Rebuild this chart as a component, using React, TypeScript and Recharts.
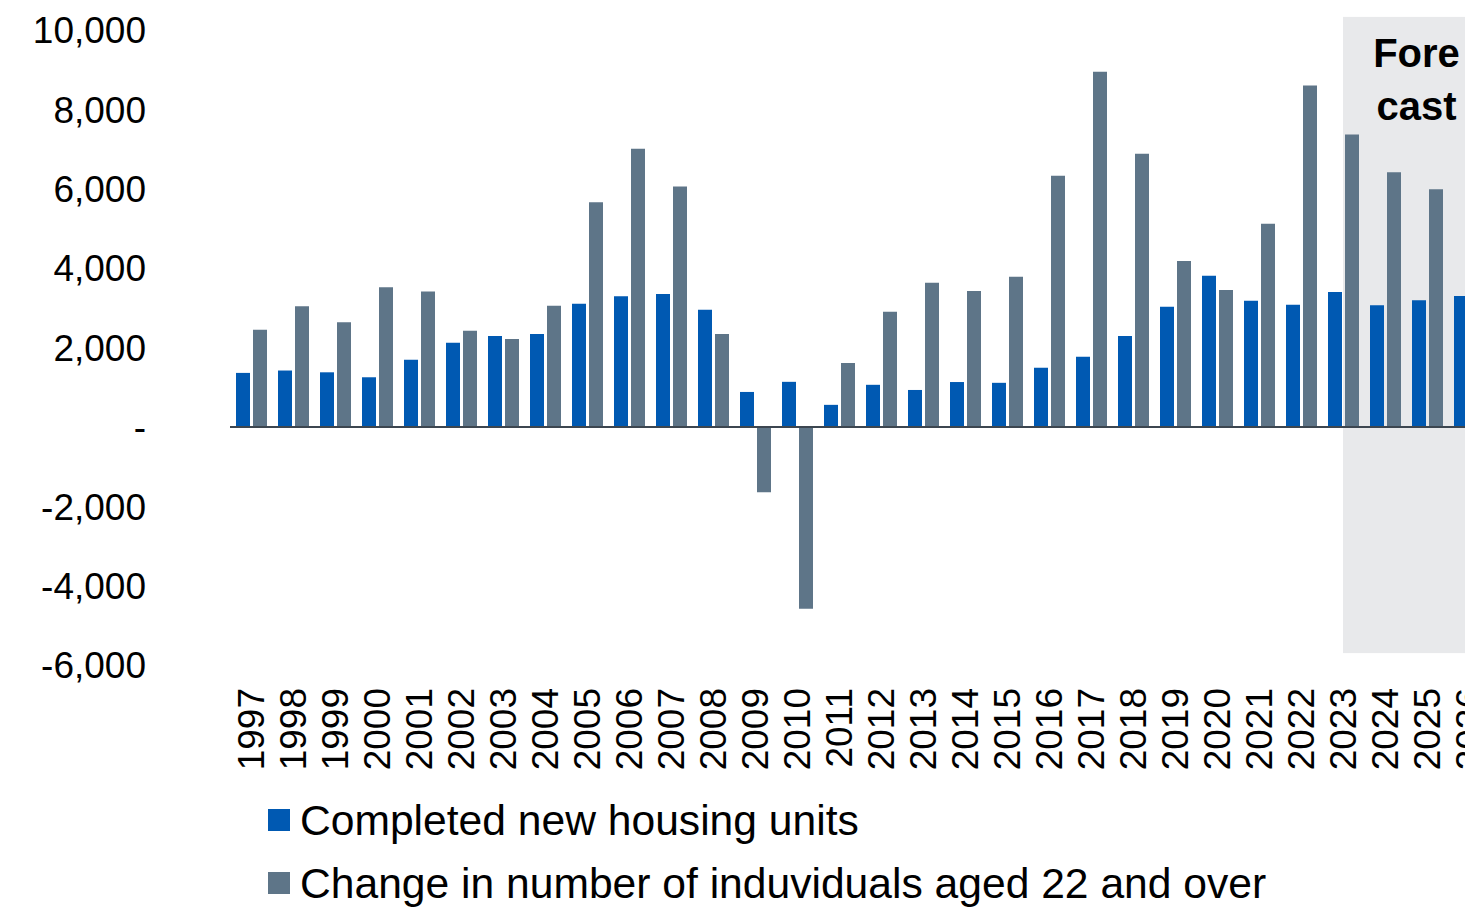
import { BarChart, Bar, XAxis, YAxis, ReferenceLine, ReferenceArea } from 'recharts'

const years = [
    '1997', '1998', '1999', '2000', '2001', '2002', '2003', '2004', '2005', '2006',
    '2007', '2008', '2009', '2010', '2011', '2012', '2013', '2014', '2015', '2016',
    '2017', '2018', '2019', '2020', '2021', '2022', '2023', '2024', '2025', '2026',
]

const completedUnits = [
    1360, 1420, 1375, 1250, 1690, 2120, 2290, 2340, 3105, 3290,
    3350, 2950, 880, 1135, 555, 1060, 930, 1130, 1110, 1490,
    1765, 2290, 3025, 3810, 3180, 3080, 3400, 3065, 3190, 3300,
]

// 2026 value is outside the visible picture
const adultChange = [
    2450, 3040, 2635, 3520, 3410, 2420, 2215, 3050, 5660, 7005,
    6055, 2340, -1650, -4585, 1610, 2900, 3630, 3425, 3780, 6325,
    8945, 6880, 4180, 3450, 5115, 8600, 7365, 6415, 5985, null,
]

const seriesNames = ['Completed new housing units', 'Change in number of induviduals aged 22 and over']
const seriesColors = ['#0059B2', '#5E7588']
const yTicks = [-6000, -4000, -2000, 0, 2000, 4000, 6000, 8000, 10000]
const forecastStart = '2023'
const forecastEnd = '2026'
const forecastLabel = ['Fore', 'cast']

const font = '"Liberation Sans", Arial, sans-serif'

const chartData = years.map((year, i) => ({
    year,
    completed: completedUnits[i],
    change: adultChange[i],
}))

const YTick = ({ x, y, payload }: any) => (
    <text x={x} y={y} dy="0.36em" textAnchor="end" fontSize={37} fontFamily={font} fill="#000">
        {payload.value === 0 ? '-' : payload.value.toLocaleString('en-US')}
    </text>
)

const XTick = ({ x, y, payload }: any) => (
    <text
        x={x}
        y={y}
        dy="0.36em"
        transform={`rotate(-90, ${x}, ${y})`}
        textAnchor="end"
        fontSize={37}
        fontFamily={font}
        fill="#000"
    >
        {payload.value}
    </text>
)

// shaded box starts in the middle of the first forecast year
const ForecastBox = ({ x, y, width, height }: any) => {
    const shift = width / 8
    const cx = x + shift + (width - shift) / 2
    return (
        <g>
            <rect x={x + shift} y={y} width={width - shift} height={height} fill="#E8E9EB" />
            <text x={cx} y={y + 50} textAnchor="middle" fontSize={40} fontWeight="bold" fontFamily={font} fill="#000">
                {forecastLabel[0]}
            </text>
            <text x={cx} y={y + 103} textAnchor="middle" fontSize={40} fontWeight="bold" fontFamily={font} fill="#000">
                {forecastLabel[1]}
            </text>
        </g>
    )
}

export default function App() {
    return (
        <div style={{ position: 'absolute', left: 0, top: 0, width: 1465, height: 908, overflow: 'hidden', background: '#fff' }}>
            <BarChart
                width={1510}
                height={908}
                data={chartData}
                margin={{ top: 30, right: 20, bottom: 0, left: 0 }}
                barGap={3}
                barSize={14}
            >
                <ReferenceArea
                    x1={forecastStart}
                    x2={forecastEnd}
                    y1={-5700}
                    y2={10330}
                    ifOverflow="visible"
                    shape={ForecastBox}
                />
                <XAxis
                    dataKey="year"
                    axisLine={false}
                    tickLine={false}
                    tickSize={0}
                    tickMargin={23}
                    height={243}
                    interval={0}
                    tick={XTick}
                />
                <YAxis
                    domain={[-6000, 10000]}
                    ticks={yTicks}
                    axisLine={false}
                    tickLine={false}
                    tickSize={0}
                    tickMargin={84}
                    width={230}
                    interval={0}
                    tick={YTick}
                />
                <Bar dataKey="completed" name={seriesNames[0]} fill={seriesColors[0]} isAnimationActive={false} />
                <Bar dataKey="change" name={seriesNames[1]} fill={seriesColors[1]} isAnimationActive={false} />
                <ReferenceLine y={0} stroke="#3C4650" strokeWidth={2} />
            </BarChart>
            {seriesNames.map((name, i) => (
                <div
                    key={name}
                    style={{
                        position: 'absolute',
                        left: 268,
                        top: 809 + i * 63,
                        height: 22,
                        display: 'flex',
                        alignItems: 'center',
                        whiteSpace: 'nowrap',
                        fontFamily: font,
                        fontSize: 42.6,
                        lineHeight: 1,
                        color: '#000',
                    }}
                >
                    <span style={{ width: 22, height: 22, background: seriesColors[i], marginRight: 10, flex: 'none' }} />
                    <span>{name}</span>
                </div>
            ))}
        </div>
    )
}
